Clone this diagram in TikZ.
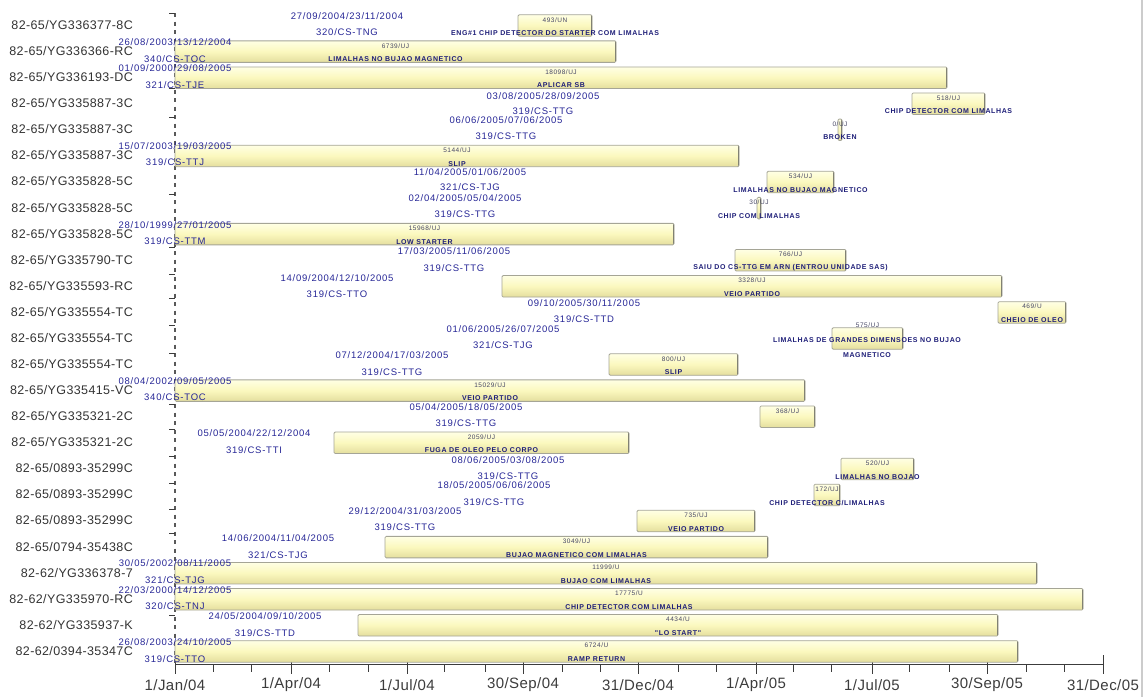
\documentclass[tikz,border=0pt]{standalone}
\usepackage{fontspec}
\setmainfont{Liberation Sans}
\newfontfamily\rowfont[LetterSpace=3]{Liberation Sans}
\newfontfamily\tagfont[LetterSpace=8]{Liberation Sans}
\newfontfamily\countfont[LetterSpace=8]{Liberation Sans}
\newfontfamily\descfont[LetterSpace=9]{Liberation Sans}
\newfontfamily\axisfont[LetterSpace=3]{Liberation Sans}
\definecolor{rowgray}{RGB}{51,51,51}
\definecolor{tagblue}{RGB}{38,38,150}
\definecolor{countgray}{RGB}{70,70,100}
\definecolor{descblue}{RGB}{30,30,120}
\definecolor{bartop}{RGB}{255,255,228}
\definecolor{barmid}{RGB}{251,248,190}
\definecolor{barbottom}{RGB}{228,222,158}
\definecolor{barline}{RGB}{165,165,150}
\definecolor{baredge}{RGB}{110,110,95}
\definecolor{axisgray}{RGB}{60,60,60}

\begin{document}
\begin{tikzpicture}[x=1pt, y=-1pt,
    row label/.style={anchor=east, inner sep=0pt, text=rowgray, font=\rowfont\fontsize{12.5}{14}\selectfont},
    date tag/.style={inner sep=0pt, text=tagblue, font=\tagfont\fontsize{9.5}{11}\selectfont},
    count tag/.style={inner sep=0pt, text=countgray, font=\countfont\fontsize{6.5}{7}\selectfont},
    desc tag/.style={inner sep=0pt, align=center, text=descblue, font=\descfont\bfseries\fontsize{7}{8}\selectfont},
    axis tag/.style={inner sep=0pt, text=axisgray, font=\axisfont\fontsize{15}{17}\selectfont},
    task bar/.style={draw=barline, line width=0.8pt, rounded corners=1.2pt, top color=bartop, bottom color=barbottom, middle color=barmid,
        minimum height=21.5pt, inner sep=0pt, outer sep=0pt, anchor=west,
        path picture={\draw[baredge, line width=3pt] (path picture bounding box.north east) -- (path picture bounding box.south east);}},
    axis line/.style={axisgray, line width=1pt}]

\useasboundingbox (0,0) rectangle (1143,697);
\draw[gray!40, line width=2pt] (1142,0) -- (1142,697);

% time axis
\draw[axisgray!85, line width=1.3pt, dash pattern=on 4pt off 4.5pt] (175,13) -- (175,664);
\draw[axis line] (169,13) -- (175,13) (169,88) -- (175,88) (169,117) -- (175,117) (169,194) -- (175,194)
    (169,247) -- (175,247) (169,274) -- (175,274) (169,298) -- (175,298) (169,325) -- (175,325)
    (169,353) -- (175,353) (169,404) -- (175,404) (169,429) -- (175,429) (169,456) -- (175,456)
    (169,483) -- (175,483) (169,509) -- (175,509) (169,533) -- (175,533) (169,615) -- (175,615);
\draw[axis line] (175,664) -- (1103,664);
\draw[axis line] (175,655) -- (175,674) (291,655) -- (291,674) (407,655) -- (407,674) (523,655) -- (523,674)
    (638,655) -- (638,674) (756,655) -- (756,674) (872,655) -- (872,674) (987,655) -- (987,674) (1103,655) -- (1103,674);
\draw[axis line] (213,664) -- (213,672) (251,664) -- (251,672) (329,664) -- (329,672) (368,664) -- (368,672)
    (444,664) -- (444,672) (485,664) -- (485,672) (562,664) -- (562,672) (600,664) -- (600,672)
    (678,664) -- (678,672) (716,664) -- (716,672) (793,664) -- (793,672) (831,664) -- (831,672)
    (909,664) -- (909,672) (949,664) -- (949,672) (1026,664) -- (1026,672) (1064,664) -- (1064,672);
\node[axis tag] (x1) at (175,685) {1/Jan/04};
\node[axis tag] (x2) at (291,685) {1/Apr/04};
\node[axis tag] (x3) at (407,685) {1/Jul/04};
\node[axis tag] (x4) at (523,685) {30/Sep/04};
\node[axis tag] (x5) at (638,685) {31/Dec/04};
\node[axis tag] (x6) at (756,685) {1/Apr/05};
\node[axis tag] (x7) at (872,685) {1/Jul/05};
\node[axis tag] (x8) at (987,685) {30/Sep/05};
\node[axis tag] (x9) at (1103,685) {31/Dec/05};

% 82-65/YG336377-8C
\node[row label] (r1) at (133,25.0) {82-65/YG336377-8C};
\node[task bar, minimum width=74pt] (b1) at (518,25.5) {};
\node[date tag] (t1) at (347,16) {27/09/2004/23/11/2004};
\node[date tag] (s1) at (347,32.5) {320/CS-TNG};
\node[count tag] (n1) at ([yshift=-5pt]b1.north) {493/UN};
\node[desc tag] (d1) at ([yshift=3pt]b1.south) {ENG\#1 CHIP DETECTOR DO STARTER COM LIMALHAS};

% 82-65/YG336366-RC
\node[row label] (r2) at (133,51.1) {82-65/YG336366-RC};
\node[task bar, minimum width=441pt] (b2) at (175,51.6) {};
\node[date tag] (t2) at (175,42) {26/08/2003/13/12/2004};
\node[date tag] (s2) at (175,59) {340/CS-TOC};
\node[count tag] (n2) at ([yshift=-5pt]b2.north) {6739/UJ};
\node[desc tag] (d2) at ([yshift=3pt]b2.south) {LIMALHAS NO BUJAO MAGNETICO};

% 82-65/YG336193-DC
\node[row label] (r3) at (133,77.2) {82-65/YG336193-DC};
\node[task bar, minimum width=772pt] (b3) at (175,77.7) {};
\node[date tag] (t3) at (175,68.5) {01/09/2000/29/08/2005};
\node[date tag] (s3) at (175,85.5) {321/CS-TJE};
\node[count tag] (n3) at ([yshift=-5pt]b3.north) {18098/UJ};
\node[desc tag] (d3) at ([yshift=3pt]b3.south) {APLICAR SB};

% 82-65/YG335887-3C
\node[row label] (r4) at (133,103.2) {82-65/YG335887-3C};
\node[task bar, minimum width=73pt] (b4) at (912,103.7) {};
\node[date tag] (t4) at (543,96) {03/08/2005/28/09/2005};
\node[date tag] (s4) at (543,111) {319/CS-TTG};
\node[count tag] (n4) at ([yshift=-5pt]b4.north) {518/UJ};
\node[desc tag] (d4) at ([yshift=3pt]b4.south) {CHIP DETECTOR COM LIMALHAS};

\node[row label] (r5) at (133,129.3) {82-65/YG335887-3C};
\node[task bar, minimum width=4pt] (b5) at (838,129.8) {};
\node[date tag] (t5) at (506,120) {06/06/2005/07/06/2005};
\node[date tag] (s5) at (506,136.5) {319/CS-TTG};
\node[count tag] (n5) at ([yshift=-5pt]b5.north) {0/UJ};
\node[desc tag] (d5) at ([yshift=3pt]b5.south) {BROKEN};

\node[row label] (r6) at (133,155.4) {82-65/YG335887-3C};
\node[task bar, minimum width=564pt] (b6) at (175,155.9) {};
\node[date tag] (t6) at (175,146.5) {15/07/2003/19/03/2005};
\node[date tag] (s6) at (175,162.5) {319/CS-TTJ};
\node[count tag] (n6) at ([yshift=-5pt]b6.north) {5144/UJ};
\node[desc tag] (d6) at ([yshift=3pt]b6.south) {SLIP};

% 82-65/YG335828-5C
\node[row label] (r7) at (133,181.5) {82-65/YG335828-5C};
\node[task bar, minimum width=67pt] (b7) at (767,182) {};
\node[date tag] (t7) at (470,172) {11/04/2005/01/06/2005};
\node[date tag] (s7) at (470,187.5) {321/CS-TJG};
\node[count tag] (n7) at ([yshift=-5pt]b7.north) {534/UJ};
\node[desc tag] (d7) at ([yshift=3pt]b7.south) {LIMALHAS NO BUJAO MAGNETICO};

\node[row label] (r8) at (133,207.6) {82-65/YG335828-5C};
\node[task bar, minimum width=4pt] (b8) at (757,208.1) {};
\node[date tag] (t8) at (465,198) {02/04/2005/05/04/2005};
\node[date tag] (s8) at (465,214) {319/CS-TTG};
\node[count tag] (n8) at ([yshift=-5pt]b8.north) {30/UJ};
\node[desc tag] (d8) at ([yshift=3pt]b8.south) {CHIP COM LIMALHAS};

\node[row label] (r9) at (133,233.6) {82-65/YG335828-5C};
\node[task bar, minimum width=499pt] (b9) at (175,234.1) {};
\node[date tag] (t9) at (175,225) {28/10/1999/27/01/2005};
\node[date tag] (s9) at (175,241.5) {319/CS-TTM};
\node[count tag] (n9) at ([yshift=-5pt]b9.north) {15968/UJ};
\node[desc tag] (d9) at ([yshift=3pt]b9.south) {LOW STARTER};

% 82-65/YG335790-TC
\node[row label] (r10) at (133,259.7) {82-65/YG335790-TC};
\node[task bar, minimum width=111pt] (b10) at (735,260.2) {};
\node[date tag] (t10) at (454,251) {17/03/2005/11/06/2005};
\node[date tag] (s10) at (454,268) {319/CS-TTG};
\node[count tag] (n10) at ([yshift=-5pt]b10.north) {766/UJ};
\node[desc tag] (d10) at ([yshift=3pt]b10.south) {SAIU DO CS-TTG EM ARN (ENTROU UNIDADE SAS)};

% 82-65/YG335593-RC
\node[row label] (r11) at (133,285.8) {82-65/YG335593-RC};
\node[task bar, minimum width=500pt] (b11) at (502,286.3) {};
\node[date tag] (t11) at (337,278) {14/09/2004/12/10/2005};
\node[date tag] (s11) at (337,294.5) {319/CS-TTO};
\node[count tag] (n11) at ([yshift=-5pt]b11.north) {3328/UJ};
\node[desc tag] (d11) at ([yshift=3pt]b11.south) {VEIO PARTIDO};

% 82-65/YG335554-TC
\node[row label] (r12) at (133,311.9) {82-65/YG335554-TC};
\node[task bar, minimum width=68pt] (b12) at (998,312.4) {};
\node[date tag] (t12) at (584,303) {09/10/2005/30/11/2005};
\node[date tag] (s12) at (584,319) {319/CS-TTD};
\node[count tag] (n12) at ([yshift=-5pt]b12.north) {469/U};
\node[desc tag] (d12) at ([yshift=3pt]b12.south) {CHEIO DE OLEO};

\node[row label] (r13) at (133,338) {82-65/YG335554-TC};
\node[task bar, minimum width=71pt] (b13) at (832,338.5) {};
\node[date tag] (t13) at (503,329.5) {01/06/2005/26/07/2005};
\node[date tag] (s13) at (503,345.5) {321/CS-TJG};
\node[count tag] (n13) at ([yshift=2.5pt]b13.north) {575/UJ};
\node[desc tag] (d13) at (867,347.8) {LIMALHAS DE GRANDES DIMENSOES NO BUJAO\\[6.5pt]MAGNETICO};

\node[row label] (r14) at (133,364) {82-65/YG335554-TC};
\node[task bar, minimum width=129pt] (b14) at (609,364.5) {};
\node[date tag] (t14) at (392,355.5) {07/12/2004/17/03/2005};
\node[date tag] (s14) at (392,372) {319/CS-TTG};
\node[count tag] (n14) at ([yshift=-5pt]b14.north) {800/UJ};
\node[desc tag] (d14) at ([yshift=3pt]b14.south) {SLIP};

% 82-65/YG335415-VC
\node[row label] (r15) at (133,390.1) {82-65/YG335415-VC};
\node[task bar, minimum width=630pt] (b15) at (175,390.6) {};
\node[date tag] (t15) at (175,381.5) {08/04/2002/09/05/2005};
\node[date tag] (s15) at (175,397.5) {340/CS-TOC};
\node[count tag] (n15) at ([yshift=-5pt]b15.north) {15029/UJ};
\node[desc tag] (d15) at ([yshift=3pt]b15.south) {VEIO PARTIDO};

% 82-65/YG335321-2C
\node[row label] (r16) at (133,416.2) {82-65/YG335321-2C};
\node[task bar, minimum width=55pt] (b16) at (760,416.7) {};
\node[date tag] (t16) at (466,407.5) {05/04/2005/18/05/2005};
\node[date tag] (s16) at (466,423.5) {319/CS-TTG};
\node[count tag] (n16) at ([yshift=-5pt]b16.north) {368/UJ};

\node[row label] (r17) at (133,442.3) {82-65/YG335321-2C};
\node[task bar, minimum width=295pt] (b17) at (334,442.8) {};
\node[date tag] (t17) at (254,433.5) {05/05/2004/22/12/2004};
\node[date tag] (s17) at (254,450.5) {319/CS-TTI};
\node[count tag] (n17) at ([yshift=-5pt]b17.north) {2059/UJ};
\node[desc tag] (d17) at ([yshift=3pt]b17.south) {FUGA DE OLEO PELO CORPO};

% 82-65/0893-35299C
\node[row label] (r18) at (133,468.4) {82-65/0893-35299C};
\node[task bar, minimum width=73pt] (b18) at (841,468.9) {};
\node[date tag] (t18) at (508,460) {08/06/2005/03/08/2005};
\node[date tag] (s18) at (508,476.5) {319/CS-TTG};
\node[count tag] (n18) at ([yshift=-5pt]b18.north) {520/UJ};
\node[desc tag] (d18) at ([yshift=3pt]b18.south) {LIMALHAS NO BOJAO};

\node[row label] (r19) at (133,494.4) {82-65/0893-35299C};
\node[task bar, minimum width=26pt] (b19) at (814,494.9) {};
\node[date tag] (t19) at (494,485.5) {18/05/2005/06/06/2005};
\node[date tag] (s19) at (494,502) {319/CS-TTG};
\node[count tag] (n19) at ([yshift=-5pt]b19.north) {172/UJ};
\node[desc tag] (d19) at ([yshift=3pt]b19.south) {CHIP DETECTOR C/LIMALHAS};

\node[row label] (r20) at (133,520.5) {82-65/0893-35299C};
\node[task bar, minimum width=118pt] (b20) at (637,521) {};
\node[date tag] (t20) at (405,511.5) {29/12/2004/31/03/2005};
\node[date tag] (s20) at (405,527.5) {319/CS-TTG};
\node[count tag] (n20) at ([yshift=-5pt]b20.north) {735/UJ};
\node[desc tag] (d20) at ([yshift=3pt]b20.south) {VEIO PARTIDO};

% 82-65/0794-35438C
\node[row label] (r21) at (133,546.6) {82-65/0794-35438C};
\node[task bar, minimum width=383pt] (b21) at (385,547.1) {};
\node[date tag] (t21) at (278,538) {14/06/2004/11/04/2005};
\node[date tag] (s21) at (278,555) {321/CS-TJG};
\node[count tag] (n21) at ([yshift=-5pt]b21.north) {3049/UJ};
\node[desc tag] (d21) at ([yshift=3pt]b21.south) {BUJAO MAGNETICO COM LIMALHAS};

% 82-62 engines
\node[row label] (r22) at (133,572.7) {82-62/YG336378-7};
\node[task bar, minimum width=862pt] (b22) at (175,573.2) {};
\node[date tag] (t22) at (175,563.5) {30/05/2002/08/11/2005};
\node[date tag] (s22) at (175,580) {321/CS-TJG};
\node[count tag] (n22) at ([yshift=-5pt]b22.north) {11999/U};
\node[desc tag] (d22) at ([yshift=3pt]b22.south) {BUJAO COM LIMALHAS};

\node[row label] (r23) at (133,598.8) {82-62/YG335970-RC};
\node[task bar, minimum width=908pt] (b23) at (175,599.3) {};
\node[date tag] (t23) at (175,590) {22/03/2000/14/12/2005};
\node[date tag] (s23) at (175,606) {320/CS-TNJ};
\node[count tag] (n23) at ([yshift=-5pt]b23.north) {17775/U};
\node[desc tag] (d23) at ([yshift=3pt]b23.south) {CHIP DETECTOR COM LIMALHAS};

\node[row label] (r24) at (133,624.8) {82-62/YG335937-K};
\node[task bar, minimum width=640pt] (b24) at (358,625.3) {};
\node[date tag] (t24) at (265,616.5) {24/05/2004/09/10/2005};
\node[date tag] (s24) at (265,633) {319/CS-TTD};
\node[count tag] (n24) at ([yshift=-5pt]b24.north) {4434/U};
\node[desc tag] (d24) at ([yshift=3pt]b24.south) {"LO START"};

\node[row label] (r25) at (133,650.9) {82-62/0394-35347C};
\node[task bar, minimum width=843pt] (b25) at (175,651.4) {};
\node[date tag] (t25) at (175,642) {26/08/2003/24/10/2005};
\node[date tag] (s25) at (175,659) {319/CS-TTO};
\node[count tag] (n25) at ([yshift=-5pt]b25.north) {6724/U};
\node[desc tag] (d25) at ([yshift=3pt]b25.south) {RAMP RETURN};

\end{tikzpicture}
\end{document}
